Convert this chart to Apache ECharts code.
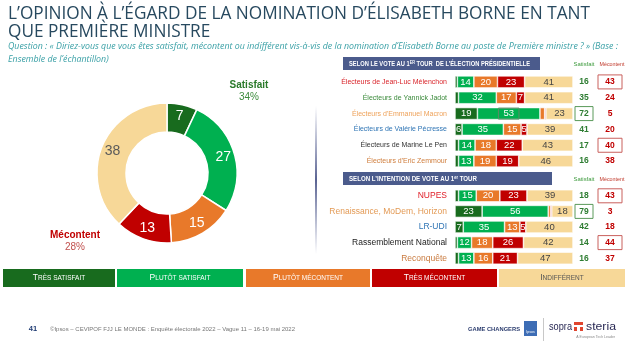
<!DOCTYPE html>
<html><head><meta charset="utf-8">
<script src="https://cdn.jsdelivr.net/npm/echarts@6/dist/echarts.min.js"></script>
<style>html,body{margin:0;padding:0;background:#fff}#c{width:630px;height:346px}</style>
</head><body><div id="c"></div><script>
// ---------- DATA ----------
const segmentNames = ['Très satisfait', 'Plutôt satisfait', 'Plutôt mécontent', 'Très mécontent', 'Indifférent'];
const donutValues = [7, 27, 15, 13, 38];
const donutSatisfait = 34;
const donutMecontent = 28;

const voteCategories = ['Électeurs de Jean-Luc Mélenchon', 'Électeurs de Yannick Jadot', "Électeurs d'Emmanuel Macron",
  'Électeurs de Valérie Pécresse', 'Électeurs de Marine Le Pen', "Électeurs d'Eric Zemmour"];
const voteTresSat = [2, 3, 19, 6, 3, 3];
const votePlutotSat = [14, 32, 53, 35, 14, 13];
const votePlutotMec = [20, 17, 4, 15, 18, 19];
const voteTresMec = [23, 7, 1, 5, 22, 19];
const voteIndiff = [41, 41, 23, 39, 43, 46];
const voteSatisfait = [16, 35, 72, 41, 17, 16];
const voteMecontent = [43, 24, 5, 20, 40, 38];
const voteBoxedSat = ["Électeurs d'Emmanuel Macron"];
const voteBoxedMec = ['Électeurs de Jean-Luc Mélenchon', 'Électeurs de Marine Le Pen'];

const intentCategories = ['NUPES', 'Renaissance, MoDem, Horizon', 'LR-UDI', 'Rassemblement National', 'Reconquête'];
const intentTresSat = [3, 23, 7, 2, 3];
const intentPlutotSat = [15, 56, 35, 12, 13];
const intentPlutotMec = [20, 2, 13, 18, 16];
const intentTresMec = [23, 1, 5, 26, 21];
const intentIndiff = [39, 18, 40, 42, 47];
const intentSatisfait = [18, 79, 42, 14, 16];
const intentMecontent = [43, 3, 18, 44, 37];
const intentBoxedSat = ['Renaissance, MoDem, Horizon'];
const intentBoxedMec = ['NUPES', 'Rassemblement National'];

// ---------- STYLE ----------
const FONT = '"Liberation Sans", Arial, sans-serif';
const colors = ['#186b1e', '#00b050', '#e8792a', '#c00000', '#f7d898'];
const voteLabelColors = ['#d9262c', '#3a8a3a', '#eea25a', '#2f75b5', '#333333', '#cf7d3c'];
const intentLabelColors = ['#e0202a', '#e39a55', '#2f75b5', '#222222', '#c97a3e'];

const mctx = document.createElement('canvas').getContext('2d');
function fit(text, font, w) { mctx.font = font; return w / mctx.measureText(text).width; }

function stack(gi, arrays, boxedSeg) {
  return arrays.map((arr, k) => ({
    type: 'bar', xAxisIndex: gi, yAxisIndex: gi * 2, stack: 'g' + gi, barWidth: 12, silent: true,
    name: segmentNames[k],
    data: arr.map((v, r) => (boxedSeg && boxedSeg.row === r && boxedSeg.k === k)
      ? { value: v, label: { borderColor: '#5d8a66', borderWidth: 1, padding: [1, 5, 0, 5] } } : v),
    itemStyle: { color: colors[k], borderColor: '#ffffff', borderWidth: 0.6 },
    label: { show: true, position: 'inside', formatter: p => (p.value >= 5 ? p.value : ''),
      color: k === 4 ? '#444' : '#fff', fontSize: 9.5, fontFamily: FONT }
  }));
}

function totalsAxis(gi, cats, sat, mec, boxSat, boxMec) {
  return {
    gridIndex: gi, type: 'category', data: cats, inverse: true, position: 'right',
    axisLine: { show: false }, axisTick: { show: false },
    axisLabel: {
      margin: 2, interval: 0,
      formatter: (v, i) => `{${boxSat.includes(v) ? 'sb' : 's'}|${sat[i]}}{g|}{${boxMec.includes(v) ? 'mb' : 'm'}|${mec[i]}}`,
      rich: {
        s: { width: 18, align: 'center', color: '#2e7d32', fontWeight: 'bold', fontSize: 8.5, fontFamily: FONT },
        sb: { width: 18, height: 14, align: 'center', color: '#2e7d32', fontWeight: 'bold', fontSize: 8.5, fontFamily: FONT, borderColor: '#5a9a5a', borderWidth: 1 },
        g: { width: 5 },
        m: { width: 24, align: 'center', color: '#c00000', fontWeight: 'bold', fontSize: 8.5, fontFamily: FONT },
        mb: { width: 24, height: 14, align: 'center', color: '#c00000', fontWeight: 'bold', fontSize: 8.5, fontFamily: FONT, borderColor: '#c9605d', borderWidth: 1 }
      }
    }
  };
}

function txt(x, y, text, opts) {
  const o = Object.assign({ size: 8, weight: 'normal', style: 'normal', family: FONT, color: '#333', align: 'left', valign: 'middle', width: null }, opts || {});
  const font = `${o.style} ${o.weight} ${o.size}px ${o.family}`;
  const sx = o.width ? fit(text, font, o.width) : 1;
  return { type: 'text', x: x, y: y, scaleX: sx, silent: true,
    style: { text: text, x: 0, y: 0, font: font, fill: o.color, textAlign: o.align, align: o.align, textVerticalAlign: o.valign, verticalAlign: o.valign } };
}

const graphics = [];
// Title
const titleFont = 'normal normal 19px "Open Sans", sans-serif';
const t1 = 'L’OPINION À L’ÉGARD DE LA NOMINATION D’ÉLISABETH BORNE EN TANT';
const tScale = fit(t1, titleFont, 582);
[t1, 'QUE PREMIÈRE MINISTRE'].forEach((t, i) => graphics.push({ type: 'text', x: 8, y: 14 + i * 18, scaleX: tScale, silent: true,
  style: { text: t, x: 0, y: 0, font: titleFont, fill: '#27495f', textVerticalAlign: 'middle', verticalAlign: 'middle' } }));
// Subtitle
const s1 = 'Question : « Diriez-vous que vous êtes satisfait, mécontent ou indifférent vis-à-vis de la nomination d’Elisabeth Borne au poste de Première ministre ? » (Base :';
const subFont = 'italic normal 8.5px "Open Sans", sans-serif';
const sScale = fit(s1, subFont, 610);
[s1, 'Ensemble de l’échantillon)'].forEach((t, i) => graphics.push({ type: 'text', x: 8, y: 47 + i * 13, scaleX: sScale, silent: true,
  style: { text: t, x: 0, y: 0, font: subFont, fill: '#3aa0a6', textVerticalAlign: 'middle', verticalAlign: 'middle' } }));

// Donut annotations
graphics.push(txt(249, 85, 'Satisfait', { size: 10, weight: 'bold', color: '#2a7a2a', align: 'center' }));
graphics.push(txt(249, 97, donutSatisfait + '%', { size: 10, color: '#3d8b3d', align: 'center' }));
graphics.push(txt(75, 235, 'Mécontent', { size: 10, weight: 'bold', color: '#c00000', align: 'center' }));
graphics.push(txt(75, 247, donutMecontent + '%', { size: 10, color: '#c0504d', align: 'center' }));

// Divider
graphics.push({ type: 'rect', silent: true, shape: { x: 315, y: 106, width: 2, height: 148 },
  style: { fill: new echarts.graphic.LinearGradient(0, 0, 0, 1, [
    { offset: 0, color: 'rgba(90,100,150,0)' }, { offset: 0.5, color: 'rgba(80,90,140,0.95)' }, { offset: 1, color: 'rgba(90,100,150,0)' }]) } });

// Section headers
function header(y, w, parts, textW) {
  graphics.push({ type: 'rect', silent: true, shape: { x: 343, y: y, width: w, height: 13 }, style: { fill: '#4b5b8c' } });
  const plain = parts.map(p => p[0]).join('');
  const f = 'normal bold 7px "Liberation Sans", Arial, sans-serif';
  const sc = fit(plain, f, textW);
  graphics.push({ type: 'text', x: 349, y: y + 7, scaleX: sc, silent: true,
    style: { text: parts.map(p => p[1] ? `{sup|${p[0]}}` : `{n|${p[0]}}`).join(''), x: 0, y: 0,
      textVerticalAlign: 'middle', verticalAlign: 'middle',
      rich: { n: { fontSize: 7, fontWeight: 'bold', fill: '#fff', color: '#fff', fontFamily: FONT },
        sup: { fontSize: 4.5, fontWeight: 'bold', fill: '#fff', color: '#fff', fontFamily: FONT, verticalAlign: 'top', padding: [0, 0, 3, 0] } } } });
}
header(57, 197, [['SELON LE VOTE AU 1'], ['ER', true], [' TOUR  DE L’ÉLECTION PRÉSIDENTIELLE']], 184);
header(172, 209, [['SELON L’INTENTION DE VOTE AU 1'], ['er', true], [' TOUR']], 130);
[64, 179].forEach(y => {
  graphics.push(txt(584, y, 'Satisfait', { size: 6, color: '#3d9a3d', align: 'center', width: 21 }));
  graphics.push(txt(612, y, 'Mécontent', { size: 6, color: '#c0392b', align: 'center', width: 25 }));
});

// Legend boxes
const legendBoxes = [[3, 112], [117, 126], [246, 124], [372, 125], [499, 126]];
const legendTexts = [['T', 'RÈS SATISFAIT'], ['P', 'LUTÔT SATISFAIT'], ['P', 'LUTÔT MÉCONTENT'], ['T', 'RÈS MÉCONTENT'], ['I', 'NDIFFÉRENT']];
legendBoxes.forEach((b, i) => {
  graphics.push({ type: 'rect', silent: true, shape: { x: b[0], y: 269, width: b[1], height: 18 }, style: { fill: colors[i] } });
  const c = i === 4 ? '#555' : '#fff';
  graphics.push({ type: 'text', x: b[0] + b[1] / 2, y: 278, silent: true,
    style: { text: `{b|${legendTexts[i][0]}}{s|${legendTexts[i][1]}}`, x: 0, y: 0, textAlign: 'center', align: 'center', textVerticalAlign: 'middle', verticalAlign: 'middle',
      rich: { b: { fontSize: 8.5, fill: c, color: c, fontFamily: FONT }, s: { fontSize: 6.5, fill: c, color: c, fontFamily: FONT } } } });
});

// Footer
graphics.push(txt(33, 329, '41', { size: 7.5, weight: 'bold', color: '#1f3b73', align: 'center' }));
graphics.push(txt(50, 329, '©Ipsos – CEVIPOF FJJ LE MONDE : Enquête électorale 2022 – Vague 11 – 16-19 mai 2022', { size: 6, color: '#777', width: 245 }));
graphics.push(txt(468, 329, 'GAME CHANGERS', { size: 6, weight: 'bold', color: '#2b3c6e', width: 52 }));
graphics.push({ type: 'rect', silent: true, shape: { x: 524, y: 321, width: 13, height: 15 }, style: { fill: '#3d6db5' } });
graphics.push(txt(530.5, 332, 'Ipsos', { size: 3.5, color: '#fff', align: 'center' }));
graphics.push({ type: 'rect', silent: true, shape: { x: 543, y: 318, width: 1, height: 23 }, style: { fill: '#c8c8c8' } });
graphics.push(txt(549, 327, 'sopra', { size: 11, color: '#2a2a55', width: 23 }));
graphics.push({ type: 'rect', silent: true, shape: { x: 574, y: 322, width: 9, height: 3 }, style: { fill: '#e0452f' } });
graphics.push({ type: 'rect', silent: true, shape: { x: 574, y: 327, width: 3, height: 4 }, style: { fill: '#e0452f' } });
graphics.push({ type: 'rect', silent: true, shape: { x: 580, y: 327, width: 3, height: 4 }, style: { fill: '#e0452f' } });
graphics.push(txt(586, 327, 'steria', { size: 11, color: '#2a2a55', width: 30 }));
graphics.push(txt(615, 337, 'A European Tech Leader', { size: 3.5, color: '#888', align: 'right' }));

const option = {
  animation: false,
  grid: [
    { left: 455, width: 118, top: 74, height: 95 },
    { left: 455, width: 118, top: 188, height: 78 }
  ],
  xAxis: [
    { gridIndex: 0, type: 'value', min: 0, max: 100, show: false },
    { gridIndex: 1, type: 'value', min: 0, max: 100, show: false }
  ],
  yAxis: [
    { gridIndex: 0, type: 'category', data: voteCategories, inverse: true, axisLine: { show: false }, axisTick: { show: false },
      axisLabel: { margin: 8, interval: 0, fontSize: 7, fontFamily: FONT, color: (v, i) => voteLabelColors[i] } },
    totalsAxis(0, voteCategories, voteSatisfait, voteMecontent, voteBoxedSat, voteBoxedMec),
    { gridIndex: 1, type: 'category', data: intentCategories, inverse: true, axisLine: { show: false }, axisTick: { show: false },
      axisLabel: { margin: 8, interval: 0, fontSize: 8.5, fontFamily: FONT, color: (v, i) => intentLabelColors[i] } },
    totalsAxis(1, intentCategories, intentSatisfait, intentMecontent, intentBoxedSat, intentBoxedMec)
  ],
  series: [
    { type: 'pie', center: [167, 173], radius: [41, 70], startAngle: 90, clockwise: true, silent: true,
      data: segmentNames.map((n, i) => ({ name: n, value: donutValues[i], itemStyle: { color: colors[i] },
        label: { color: i === 4 ? '#5a5a5a' : '#fff' } })),
      label: { show: true, position: 'inside', formatter: '{c}', fontSize: 14, fontFamily: FONT },
      labelLine: { show: false }, itemStyle: { borderColor: '#fff', borderWidth: 1.5 } },
    ...stack(0, [voteTresSat, votePlutotSat, votePlutotMec, voteTresMec, voteIndiff], { row: 2, k: 1 }),
    ...stack(1, [intentTresSat, intentPlutotSat, intentPlutotMec, intentTresMec, intentIndiff], null)
  ],
  graphic: graphics
};
const chart = echarts.init(document.getElementById('c'));
chart.setOption(option);
</script></body></html>
